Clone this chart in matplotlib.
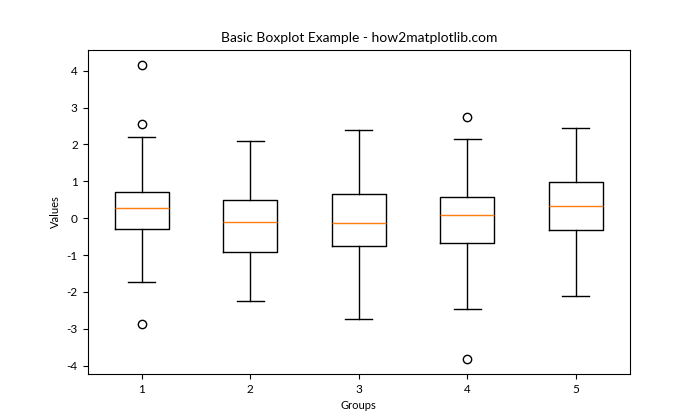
import matplotlib.pyplot as plt

plt.rcParams['font.family'] = ['Lato', 'DejaVu Sans']
plt.rcParams['axes.unicode_minus'] = False

# Box statistics
groups = ['1', '2', '3', '4', '5']
whisker_low = [-1.73, -2.25, -2.73, -2.46, -2.11]
q1 = [-0.29, -0.92, -0.75, -0.67, -0.32]
medians = [0.28, -0.10, -0.13, 0.09, 0.33]
q3 = [0.71, 0.49, 0.66, 0.58, 0.98]
whisker_high = [2.20, 2.09, 2.39, 2.16, 2.45]
outliers = [[4.15, 2.55, -2.87], [], [], [2.74, -3.82], []]

# Build the stats list that bxp expects
stats = []
for i in range(len(groups)):
    stats.append({
        'label': groups[i],
        'whislo': whisker_low[i],
        'q1': q1[i],
        'med': medians[i],
        'q3': q3[i],
        'whishi': whisker_high[i],
        'fliers': outliers[i],
    })

fig, ax = plt.subplots(figsize=(7, 4.2), dpi=100)
ax.bxp(stats, showfliers=True)
ax.set_title('Basic Boxplot Example - how2matplotlib.com', fontsize=10)
ax.set_xlabel('Groups', fontsize=8)
ax.set_ylabel('Values', fontsize=8)
ax.tick_params(labelsize=8.5)

fig.savefig('out.png')
